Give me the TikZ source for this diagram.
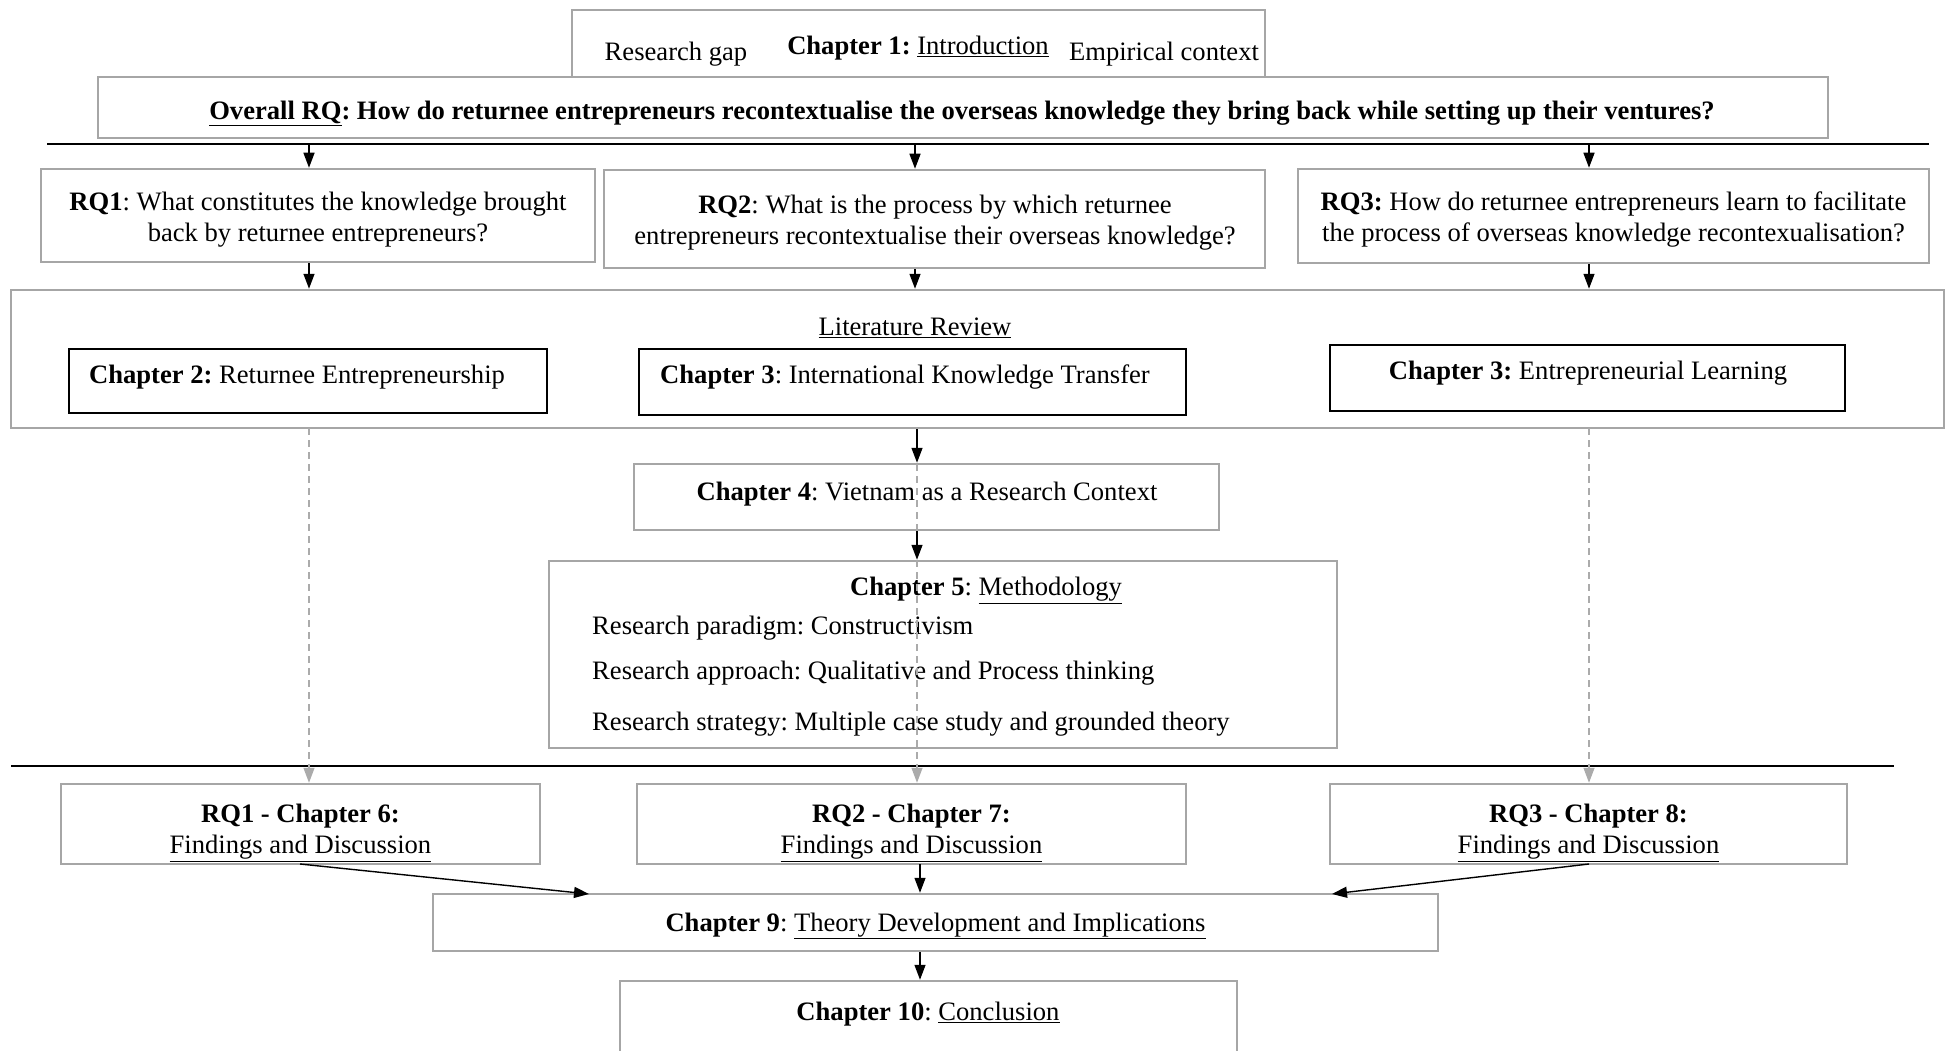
\documentclass[tikz,border=0pt]{standalone}
\usepackage{fontspec}
\setmainfont{Liberation Serif}
\usetikzlibrary{arrows.meta}
\definecolor{boxgray}{HTML}{A6A6A6}
\definecolor{dashgray}{HTML}{ABABAB}
\frenchspacing
\begin{document}
\begin{tikzpicture}[x=1pt,y=-1pt,
  every node/.style={font=\fontsize{26.6}{31}\selectfont},
  gbox/.style={draw=boxgray, line width=2.5pt, fill=white, inner sep=0pt},
  kbox/.style={draw=black, line width=2.2pt, fill=white, inner sep=0pt},
  txt/.style={inner sep=0pt, align=center},
  arr/.style={draw=black, line width=1.4pt, -{Triangle[length=15pt,width=11pt]}},
  darr/.style={draw=dashgray, line width=1.3pt, dash pattern=on 7pt off 5pt, -{Triangle[length=15pt,width=11pt,fill=dashgray]}},
  rule/.style={draw=black, line width=2pt}]
\clip (0,0) rectangle (1946,1051);
\fill[white] (0,0) rectangle (1946,1051);
% Chapter 1 and overall RQ
\node[gbox, minimum width=693pt, minimum height=67pt] (ch1) at (918.5,43.5) {};
\node[txt] (gap) at (676,54) {Research gap};
\node[txt] (ch1t) at (918,48) {\textbf{Chapter 1:} \underline{Introduction}};
\node[txt] (emp) at (1164,54) {Empirical context};
\node[gbox, minimum width=1730pt, minimum height=61pt] (orq) at (963,107.5) {};
\node[txt] (orqt) at (962,113) {\textbf{\underline{Overall RQ}: How do returnee entrepreneurs recontextualise the overseas knowledge they bring back while setting up their ventures?}};
% top rule
\coordinate (r1a) at (47,144);
\coordinate (r1b) at (1929,144);
\draw[rule] (r1a) -- (r1b);
% research questions
\node[gbox, minimum width=554pt, minimum height=93pt] (rq1) at (318,215.5) {};
\node[txt] (rq1t) at (318,219.5) {\textbf{RQ1}: What constitutes the knowledge brought\\back by returnee entrepreneurs?};
\node[gbox, minimum width=661pt, minimum height=98pt] (rq2) at (934.5,219) {};
\node[txt] (rq2t) at (935,223) {\textbf{RQ2}: What is the process by which returnee\\entrepreneurs recontextualise their overseas knowledge?};
\node[gbox, minimum width=631pt, minimum height=94pt] (rq3) at (1613.5,216) {};
\node[txt] (rq3t) at (1613.5,220) {\textbf{RQ3:} How do returnee entrepreneurs learn to facilitate\\the process of overseas knowledge recontexualisation?};
\coordinate (a1) at (309,144);
\coordinate (a2) at (915,144);
\coordinate (a3) at (1589,144);
\draw[arr] (a1) -- (a1 |- rq1.north);
\draw[arr] (a2) -- (a2 |- rq2.north);
\draw[arr] (a3) -- (a3 |- rq3.north);
% literature review
\node[gbox, minimum width=1933pt, minimum height=138pt] (lit) at (977.5,359) {};
\node[txt] (litt) at (915,328) {\underline{Literature Review}};
\node[kbox, minimum width=478pt, minimum height=64pt] (ch2) at (308,381) {};
\node[txt] (ch2t) at (297,377.5) {\textbf{Chapter 2:} Returnee Entrepreneurship};
\node[kbox, minimum width=547pt, minimum height=66pt] (ch3) at (912.5,382) {};
\node[txt] (ch3t) at (905,377.5) {\textbf{Chapter 3}: International Knowledge Transfer};
\node[kbox, minimum width=515pt, minimum height=66pt] (ch3b) at (1587.5,378) {};
\node[txt] (ch3bt) at (1588,373.5) {\textbf{Chapter 3:} Entrepreneurial Learning};
\draw[arr] (rq1.south -| a1) -- (lit.north -| a1);
\draw[arr] (rq2.south -| a2) -- (lit.north -| a2);
\draw[arr] (rq3.south -| a3) -- (lit.north -| a3);
% chapter 4 and 5
\node[gbox, minimum width=585pt, minimum height=66pt] (ch4) at (926.5,497) {};
\node[txt] (ch4t) at (927,494.5) {\textbf{Chapter 4}: Vietnam as a Research Context};
\node[gbox, minimum width=788pt, minimum height=187pt] (ch5) at (943,654.5) {};
\node[txt] (ch5t) at (986,590.5) {\textbf{Chapter 5}: \underline{Methodology}};
\node[txt, anchor=west] (m1) at (592,628.5) {Research paradigm: Constructivism};
\node[txt, anchor=west] (m2) at (592,673.5) {Research approach: Qualitative and Process thinking};
\node[txt, anchor=west] (m3) at (592,724.5) {Research strategy: Multiple case study and grounded theory};
% bottom rule
\coordinate (r2a) at (11,766);
\coordinate (r2b) at (1894,766);
\draw[rule] (r2a) -- (r2b);
% findings chapters
\node[gbox, minimum width=479pt, minimum height=80pt] (ch6) at (300.5,824) {};
\node[txt] (ch6t) at (300.5,833) {\textbf{RQ1 - Chapter 6:}\\\underline{Findings and Discussion}};
\node[gbox, minimum width=549pt, minimum height=80pt] (ch7) at (911.5,824) {};
\node[txt] (ch7t) at (911.5,833) {\textbf{RQ2 - Chapter 7:}\\\underline{Findings and Discussion}};
\node[gbox, minimum width=517pt, minimum height=80pt] (ch8) at (1588.5,824) {};
\node[txt] (ch8t) at (1588.5,833) {\textbf{RQ3 - Chapter 8:}\\\underline{Findings and Discussion}};
\node[gbox, minimum width=1005pt, minimum height=57pt] (ch9) at (935.5,922.5) {};
\node[txt] (ch9t) at (935.5,926) {\textbf{Chapter 9}: \underline{Theory Development and Implications}};
\node[gbox, minimum width=617pt, minimum height=100pt] (ch10) at (928.5,1031) {};
\node[txt] (ch10t) at (928,1014.5) {\textbf{Chapter 10}: \underline{Conclusion}};
% dashed links
\coordinate (d1) at (309,428);
\coordinate (d2) at (917,428);
\coordinate (d3) at (1589,428);
\draw[darr] (d1) -- (d1 |- ch6.north);
\draw[darr] (d2) -- (d2 |- ch7.north);
\draw[darr] (d3) -- (d3 |- ch8.north);
% central arrows
\draw[arr] (lit.south -| d2) -- (ch4.north -| d2);
\draw[arr] (ch4.south -| d2) -- (ch5.north -| d2);
\coordinate (s6) at (300,864);
\coordinate (e6) at (589,894);
\coordinate (s7) at (920,864);
\coordinate (s8) at (1589,864);
\coordinate (e8) at (1332,894);
\draw[arr] (s6) -- (e6);
\draw[arr] (s7) -- (s7 |- ch9.north);
\draw[arr] (s8) -- (e8);
\draw[arr] (ch9.south -| s7) -- (ch10.north -| s7);
\end{tikzpicture}
\end{document}
